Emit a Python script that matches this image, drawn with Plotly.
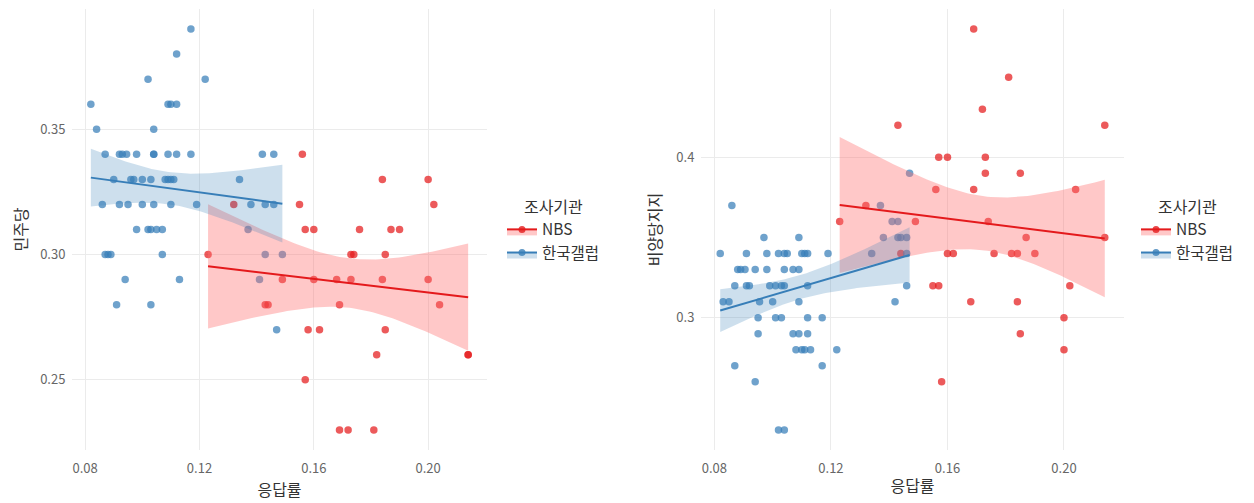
import numpy as np
import plotly.graph_objects as go

# ---------------- DATA ----------------
# Left panel: 민주당 지지율 vs 응답률
dem_gallup_x = [0.117, 0.112, 0.102, 0.122, 0.082, 0.109, 0.110, 0.112, 0.084, 0.104,
                0.087, 0.092, 0.093, 0.0945, 0.098, 0.104, 0.104, 0.109, 0.112, 0.117, 0.142, 0.146,
                0.090, 0.096, 0.097, 0.100, 0.103, 0.108, 0.109, 0.110, 0.111, 0.134,
                0.086, 0.092, 0.095, 0.100, 0.104, 0.110, 0.119, 0.138, 0.143, 0.146,
                0.098, 0.102, 0.103, 0.105, 0.107, 0.137,
                0.087, 0.088, 0.089, 0.107, 0.143, 0.149,
                0.094, 0.113, 0.141,
                0.091, 0.103,
                0.147]
dem_gallup_y = [0.39, 0.38, 0.37, 0.37, 0.36, 0.36, 0.36, 0.36, 0.35, 0.35,
                0.34, 0.34, 0.34, 0.34, 0.34, 0.34, 0.34, 0.34, 0.34, 0.34, 0.34, 0.34,
                0.33, 0.33, 0.33, 0.33, 0.33, 0.33, 0.33, 0.33, 0.33, 0.33,
                0.32, 0.32, 0.32, 0.32, 0.32, 0.32, 0.32, 0.32, 0.32, 0.32,
                0.31, 0.31, 0.31, 0.31, 0.31, 0.31,
                0.30, 0.30, 0.30, 0.30, 0.30, 0.30,
                0.29, 0.29, 0.29,
                0.28, 0.28,
                0.27]
dem_nbs_x = [0.156,
             0.184, 0.200,
             0.132, 0.155, 0.202,
             0.157, 0.160, 0.176, 0.187, 0.190,
             0.123, 0.173, 0.174, 0.185,
             0.149, 0.160, 0.168, 0.173, 0.184, 0.200,
             0.143, 0.144, 0.169, 0.204,
             0.158, 0.162, 0.185,
             0.182, 0.214, 0.214,
             0.157,
             0.169, 0.172, 0.181]
dem_nbs_y = [0.34,
             0.33, 0.33,
             0.32, 0.32, 0.32,
             0.31, 0.31, 0.31, 0.31, 0.31,
             0.30, 0.30, 0.30, 0.30,
             0.29, 0.29, 0.29, 0.29, 0.29, 0.29,
             0.28, 0.28, 0.28, 0.28,
             0.27, 0.27, 0.27,
             0.26, 0.26, 0.26,
             0.25,
             0.23, 0.23, 0.23]

# Right panel: 비양당지지 vs 응답률
ind_gallup_x = [0.147,
                0.086, 0.137,
                0.141, 0.143,
                0.097, 0.109, 0.138, 0.143, 0.144, 0.146,
                0.082, 0.091, 0.098, 0.102, 0.104, 0.105, 0.110, 0.111, 0.112, 0.119, 0.134, 0.146,
                0.088, 0.089, 0.0905, 0.094, 0.098, 0.104, 0.107, 0.109,
                0.087, 0.091, 0.092, 0.099, 0.101, 0.103, 0.104, 0.112, 0.146,
                0.083, 0.085, 0.0955, 0.100, 0.109, 0.142,
                0.095, 0.101, 0.103, 0.112, 0.117,
                0.095, 0.107, 0.109, 0.112,
                0.108, 0.110, 0.111, 0.113, 0.122,
                0.087, 0.117,
                0.094,
                0.102, 0.104]
ind_gallup_y = [0.39,
                0.37, 0.37,
                0.36, 0.36,
                0.35, 0.35, 0.35, 0.35, 0.35, 0.35,
                0.34, 0.34, 0.34, 0.34, 0.34, 0.34, 0.34, 0.34, 0.34, 0.34, 0.34, 0.34,
                0.33, 0.33, 0.33, 0.33, 0.33, 0.33, 0.33, 0.33,
                0.32, 0.32, 0.32, 0.32, 0.32, 0.32, 0.32, 0.32, 0.32,
                0.31, 0.31, 0.31, 0.31, 0.31, 0.31,
                0.30, 0.30, 0.30, 0.30, 0.30,
                0.29, 0.29, 0.29, 0.29,
                0.28, 0.28, 0.28, 0.28, 0.28,
                0.27, 0.27,
                0.26,
                0.23, 0.23]
ind_nbs_x = [0.169,
             0.181,
             0.172,
             0.143, 0.214,
             0.157, 0.160, 0.173,
             0.173, 0.185,
             0.156, 0.169, 0.204,
             0.132,
             0.123, 0.149, 0.174,
             0.187, 0.214,
             0.144, 0.160, 0.162, 0.176, 0.182, 0.184, 0.190,
             0.155, 0.157, 0.202,
             0.168, 0.184,
             0.200,
             0.185,
             0.200,
             0.158]
ind_nbs_y = [0.48,
             0.45,
             0.43,
             0.42, 0.42,
             0.40, 0.40, 0.40,
             0.39, 0.39,
             0.38, 0.38, 0.38,
             0.37,
             0.36, 0.36, 0.36,
             0.35, 0.35,
             0.34, 0.34, 0.34, 0.34, 0.34, 0.34, 0.34,
             0.32, 0.32, 0.32,
             0.31, 0.31,
             0.30,
             0.29,
             0.28,
             0.26]

groups = ["NBS", "한국갤럽"]
x_ticks = [0.08, 0.12, 0.16, 0.20]
left_y_ticks = [0.25, 0.30, 0.35]
right_y_ticks = [0.3, 0.4]

# ---------------- STYLE ----------------
# page body has an 8px margin, so the figure is 8px smaller each way
W, H = 1246, 495
OFF = 8
RED = "#E41A1C"
BLUE = "#377EB8"
RED_FILL = "rgba(255,110,110,0.38)"
BLUE_FILL = "rgba(55,126,184,0.25)"
FONT = "Noto Sans CJK KR, Noto Sans, sans-serif"


def fx(px):
    return (px - OFF) / W


def fy(py):
    return 1 - (py - OFF) / H


def t_quantile(p, df):
    a = [-3.969683028665376e+01, 2.209460984245205e+02, -2.759285104469687e+02,
         1.383577518672690e+02, -3.066479806614716e+01, 2.506628277459239e+00]
    b = [-5.447609879822406e+01, 1.615858368580409e+02, -1.556989798598866e+02,
         6.680131188771972e+01, -1.328068155288572e+01]
    q = p - 0.5
    r = q * q
    z = (((((a[0]*r+a[1])*r+a[2])*r+a[3])*r+a[4])*r+a[5])*q / \
        (((((b[0]*r+b[1])*r+b[2])*r+b[3])*r+b[4])*r+1)
    v = df
    return (z + (z**3 + z) / (4*v) + (5*z**5 + 16*z**3 + 3*z) / (96*v**2)
            + (3*z**7 + 19*z**5 + 17*z**3 - 15*z) / (384*v**3))


def lm_fit(xs, ys, n=80):
    x = np.asarray(xs, float)
    y = np.asarray(ys, float)
    b1, b0 = np.polyfit(x, y, 1)
    resid = y - (b0 + b1 * x)
    dof = len(x) - 2
    s = np.sqrt(np.sum(resid**2) / dof)
    sxx = np.sum((x - x.mean())**2)
    xg = np.linspace(x.min(), x.max(), n)
    yg = b0 + b1 * xg
    se = s * np.sqrt(1/len(x) + (xg - x.mean())**2 / sxx)
    t = t_quantile(0.975, dof)
    return xg, yg, yg - t*se, yg + t*se


def rng(vals):
    lo, hi = min(vals), max(vals)
    pad = (hi - lo) * 0.05
    return [lo - pad, hi + pad]


fig = go.Figure()

panels = [
    ("x", "y", "legend", [(dem_nbs_x, dem_nbs_y), (dem_gallup_x, dem_gallup_y)]),
    ("x2", "y2", "legend2", [(ind_nbs_x, ind_nbs_y), (ind_gallup_x, ind_gallup_y)]),
]
colors = [RED, BLUE]
fills = [RED_FILL, BLUE_FILL]

for xa, ya, lg, series in panels:
    for (sx, sy), c in zip(series, colors):
        fig.add_trace(go.Scatter(x=sx, y=sy, mode="markers", xaxis=xa, yaxis=ya,
                                 marker=dict(color=c, size=7.5, opacity=0.72, line=dict(width=0)),
                                 showlegend=False, hoverinfo="x+y"))
    for (sx, sy), c, fc in zip(series, colors, fills):
        xg, yg, lo, hi = lm_fit(sx, sy)
        fig.add_trace(go.Scatter(x=np.concatenate([xg, xg[::-1]]),
                                 y=np.concatenate([hi, lo[::-1]]),
                                 fill="toself", fillcolor=fc, line=dict(width=0),
                                 mode="lines", xaxis=xa, yaxis=ya,
                                 showlegend=False, hoverinfo="skip"))
        fig.add_trace(go.Scatter(x=xg, y=yg, mode="lines", xaxis=xa, yaxis=ya,
                                 line=dict(color=c, width=2),
                                 showlegend=False, hoverinfo="skip"))
    for g, c, fc in zip(groups, colors, fills):
        fig.add_trace(go.Scatter(x=[None], y=[None], mode="lines+markers", name=g,
                                 xaxis=xa, yaxis=ya, legend=lg,
                                 line=dict(color=c, width=2),
                                 marker=dict(color=c, size=7, opacity=0.8),
                                 fill="toself", fillcolor=fc))

grid = "#EBEBEB"
tickfont = dict(family=FONT, size=13, color="#666666")
titlefont = dict(family=FONT, size=16, color="#333333")

common_x = dict(tickvals=x_ticks, tickformat=".2f", showgrid=True, gridcolor=grid,
                gridwidth=1, zeroline=False, showline=False, ticks="outside",
                ticklen=6, tickcolor="rgba(0,0,0,0)", tickfont=tickfont)
common_y = dict(showgrid=True, gridcolor=grid, gridwidth=1, zeroline=False,
                showline=False, ticks="outside", ticklen=3,
                tickcolor="rgba(0,0,0,0)", tickfont=tickfont)

legend_common = dict(xanchor="left", yanchor="top", bgcolor="rgba(0,0,0,0)",
                     itemwidth=30,
                     font=dict(family=FONT, size=15.5, color="#333333"),
                     title=dict(text="조사기관", side="top center",
                                font=dict(family=FONT, size=16, color="#333333")))

fig.update_layout(
    width=W, height=H,
    paper_bgcolor="white", plot_bgcolor="white",
    margin=dict(l=0, r=0, t=0, b=0, autoexpand=False),
    font=dict(family=FONT, color="#333333"),
    xaxis=dict(domain=[fx(72), fx(487)], anchor="y",
               range=rng(dem_nbs_x + dem_gallup_x),
               title=dict(text="응답률", font=titlefont, standoff=5), **common_x),
    yaxis=dict(domain=[fy(450), fy(9)], anchor="x",
               range=rng(dem_nbs_y + dem_gallup_y),
               tickvals=left_y_ticks, tickformat=".2f",
               title=dict(text="민주당", font=titlefont, standoff=10), **common_y),
    xaxis2=dict(domain=[fx(701), fx(1124)], anchor="y2",
                range=rng(ind_nbs_x + ind_gallup_x),
                title=dict(text="응답률", font=titlefont, standoff=5), **common_x),
    yaxis2=dict(domain=[fy(450), fy(9)], anchor="x2",
                range=rng(ind_nbs_y + ind_gallup_y),
                tickvals=right_y_ticks, tickformat=".1f",
                title=dict(text="비양당지지", font=titlefont, standoff=10), **common_y),
    legend=dict(x=fx(502), y=fy(192), **legend_common),
    legend2=dict(x=fx(1136), y=fy(192), **legend_common),
)

fig.write_html("out.html")
